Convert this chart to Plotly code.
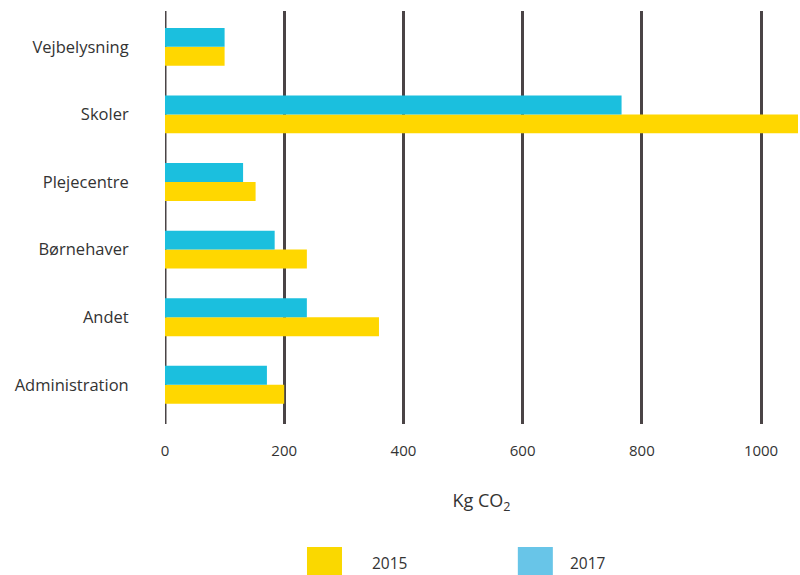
import plotly.graph_objects as go

categories = ["Administration", "Andet", "Børnehaver", "Plejecentre", "Skoler", "Vejbelysning"]
values_2015 = [200, 359, 238, 152, 1065, 100]
values_2017 = [171, 238, 184, 131, 766, 100]
x_ticks = [0, 200, 400, 600, 800, 1000]

FONT = "Open Sans"
TEXT = "#333333"

fig = go.Figure()
fig.add_trace(go.Bar(y=categories, x=values_2015, orientation="h", name="2015",
                     marker=dict(color="#FFD700", line=dict(width=0)), showlegend=False))
fig.add_trace(go.Bar(y=categories, x=values_2017, orientation="h", name="2017",
                     marker=dict(color="#1BBFDE", line=dict(width=0)), showlegend=False))

fig.update_layout(
    width=800, height=575,
    margin=dict(l=165, r=2, t=11, b=151),
    barmode="group", bargap=0.44, bargroupgap=0,
    plot_bgcolor="white", paper_bgcolor="white",
    font=dict(family=FONT, size=15, color=TEXT),
    xaxis=dict(range=[0, 1062], tickvals=x_ticks, showgrid=True,
               gridcolor="#4a4446", gridwidth=3, zeroline=False,
               showline=False, ticks="outside", ticklen=13, tickcolor="rgba(0,0,0,0)",
               tickfont=dict(size=15, color=TEXT),
               title=dict(text="Kg CO<sub>2</sub>", standoff=35, font=dict(size=18, color=TEXT))),
    yaxis=dict(range=[-0.58, 5.53], showgrid=False, zeroline=False, showline=False,
               ticks="outside", ticklen=32, tickcolor="rgba(0,0,0,0)",
               tickfont=dict(size=16.5, color=TEXT)),
)

# gridline at zero
fig.add_vline(x=0, line=dict(color="#4a4446", width=3), layer="below")

# legend drawn manually (large swatches)
legend_items = [("2015", "#FAD800", 0.2243, 0.2796, 0.355), ("2017", "#68C5E8", 0.5574, 0.6127, 0.668)]
for label, col, x0, x1, xt in legend_items:
    fig.add_shape(type="rect", xref="paper", yref="paper", x0=x0, x1=x1, y0=-0.3656, y1=-0.2978,
                  fillcolor=col, line=dict(width=0))
    fig.add_annotation(xref="paper", yref="paper", x=xt, y=-0.336, text=label, showarrow=False,
                       xanchor="center", yanchor="middle", font=dict(size=15.5, color=TEXT))

fig.write_html("out.html")
